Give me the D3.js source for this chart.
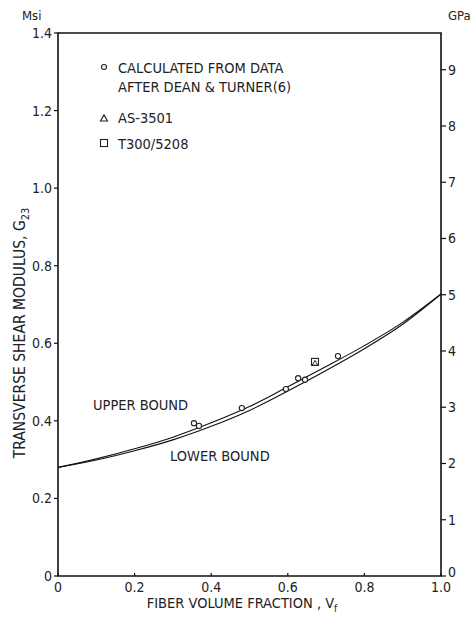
<!DOCTYPE html>
<html>
<head>
  <meta charset="utf-8">
  <script src="https://d3js.org/d3.v7.min.js"></script>
  <style>
    body { margin: 0; background: #fff; }
    text { font-family: "Liberation Sans Narrow", "DejaVu Sans Condensed", sans-serif; fill: #222; }
  </style>
</head>
<body>
<script>
  // bound curves, Msi vs fiber volume fraction
  var vf = [0, 0.1, 0.2, 0.3, 0.4, 0.5, 0.6, 0.7, 0.8, 0.9, 1.0];
  var upperBound = [0.28, 0.302, 0.328, 0.358, 0.395, 0.437, 0.488, 0.540, 0.594, 0.654, 0.727];
  var lowerBound = [0.28, 0.299, 0.323, 0.351, 0.386, 0.427, 0.477, 0.530, 0.586, 0.649, 0.727];

  // data points
  var deanTurnerVf = [0.355, 0.368, 0.48, 0.595, 0.627, 0.645, 0.731];
  var deanTurnerG  = [0.394, 0.387, 0.433, 0.482, 0.510, 0.506, 0.567];
  var as3501 = [[0.671, 0.550]];
  var t300 = [[0.671, 0.552]];

  var xTicks = [0, 0.2, 0.4, 0.6, 0.8, 1.0];
  var yTicks = [0, 0.2, 0.4, 0.6, 0.8, 1.0, 1.2, 1.4];
  var gpaTicks = [0, 1, 2, 3, 4, 5, 6, 7, 8, 9];

  var width = 476, height = 625;
  var mLeft = 58, mRight = 441, mTop = 33, mBottom = 576;

  var svg = d3.select("body").append("svg")
      .attr("width", width)
      .attr("height", height);

  var x = d3.scaleLinear().domain([0, 1]).range([mLeft, mRight]);
  var y = d3.scaleLinear().domain([0, 1.4]).range([mBottom, mTop]);
  var yG = d3.scaleLinear().domain([0, 1.4 * 6.895]).range([mBottom, mTop]);

  // frame: left, top, right, bottom
  svg.append("path")
    .attr("d", "M" + mLeft + "," + mBottom + "V" + mTop + "H" + mRight + "V" + mBottom + "Z")
    .style("fill", "none")
    .style("stroke", "#111")
    .style("stroke-width", 1.6);

  // left axis ticks
  svg.selectAll(".ytick")
    .data(yTicks)
    .enter().append("line")
    .attr("x1", mLeft - 4).attr("x2", mLeft)
    .attr("y1", function(d) { return y(d); })
    .attr("y2", function(d) { return y(d); })
    .style("stroke", "#111").style("stroke-width", 1.2);

  svg.selectAll(".ylab")
    .data(yTicks)
    .enter().append("text")
    .attr("x", mLeft - 6)
    .attr("y", function(d) { return y(d) + 5; })
    .attr("text-anchor", "end")
    .style("font-size", "14px")
    .text(function(d) { return d == 0 ? "0" : d3.format(".1f")(d); });

  // right axis ticks (GPa)
  svg.selectAll(".gtick")
    .data(gpaTicks)
    .enter().append("line")
    .attr("x1", mRight).attr("x2", mRight + 5)
    .attr("y1", function(d) { return yG(d); })
    .attr("y2", function(d) { return yG(d); })
    .style("stroke", "#111").style("stroke-width", 1.2);

  svg.selectAll(".glab")
    .data(gpaTicks)
    .enter().append("text")
    .attr("x", mRight + 7)
    .attr("y", function(d) { return yG(d) + (d == 0 ? 1 : 5); })
    .style("font-size", "14px")
    .text(function(d) { return d; });

  // bottom ticks
  svg.selectAll(".xtick")
    .data(xTicks)
    .enter().append("line")
    .attr("x1", function(d) { return x(d); })
    .attr("x2", function(d) { return x(d); })
    .attr("y1", mBottom).attr("y2", mBottom - 3)
    .style("stroke", "#111").style("stroke-width", 1.2);

  svg.selectAll(".xlab")
    .data(xTicks)
    .enter().append("text")
    .attr("x", function(d) { return x(d); })
    .attr("y", mBottom + 16)
    .attr("text-anchor", "middle")
    .style("font-size", "14px")
    .text(function(d) { return d == 0 ? "0" : d3.format(".1f")(d); });

  // units
  svg.append("text").attr("x", 22).attr("y", 20).style("font-size", "13px").text("Msi");
  svg.append("text").attr("x", 448).attr("y", 20).style("font-size", "13px").text("GPa");

  // axis titles
  var xt = svg.append("text")
    .attr("x", 242).attr("y", 608)
    .attr("text-anchor", "middle")
    .style("font-size", "14.5px")
    .text("FIBER VOLUME FRACTION , V");
  xt.append("tspan").attr("dy", 4).style("font-size", "10px").text("f");

  var yt = svg.append("text")
    .attr("transform", "translate(25,333) rotate(-90)")
    .attr("text-anchor", "middle")
    .style("font-size", "15.5px")
    .text("TRANSVERSE SHEAR MODULUS, G");
  yt.append("tspan").attr("dy", 4).style("font-size", "11px").text("23");

  // curves
  var line = d3.line()
    .x(function(d) { return x(d[0]); })
    .y(function(d) { return y(d[1]); })
    .curve(d3.curveCatmullRom);

  [upperBound, lowerBound].forEach(function(series) {
    svg.append("path")
      .datum(vf.map(function(v, i) { return [v, series[i]]; }))
      .attr("d", line)
      .style("fill", "none")
      .style("stroke", "#111")
      .style("stroke-width", 1.1);
  });

  svg.append("text").attr("x", 93).attr("y", 410).style("font-size", "14.5px").text("UPPER BOUND");
  svg.append("text").attr("x", 170).attr("y", 461).style("font-size", "14.5px").text("LOWER BOUND");

  // points
  svg.selectAll(".dt")
    .data(deanTurnerVf.map(function(v, i) { return [v, deanTurnerG[i]]; }))
    .enter().append("circle")
    .attr("cx", function(d) { return x(d[0]); })
    .attr("cy", function(d) { return y(d[1]); })
    .attr("r", 2.6)
    .style("fill", "#fff").style("stroke", "#222").style("stroke-width", 1.1);

  svg.selectAll(".sq")
    .data(t300)
    .enter().append("rect")
    .attr("x", function(d) { return x(d[0]) - 3.5; })
    .attr("y", function(d) { return y(d[1]) - 3.5; })
    .attr("width", 7).attr("height", 7)
    .style("fill", "#fff").style("stroke", "#222").style("stroke-width", 1.1);

  var tri = d3.symbol().type(d3.symbolTriangle).size(14);
  svg.selectAll(".tri")
    .data(as3501)
    .enter().append("path")
    .attr("d", tri)
    .attr("transform", function(d) { return "translate(" + x(d[0]) + "," + (y(d[1]) + 1) + ")"; })
    .style("fill", "none").style("stroke", "#222").style("stroke-width", 1);

  // legend
  svg.append("circle").attr("cx", 104).attr("cy", 67).attr("r", 2.5)
    .style("fill", "#fff").style("stroke", "#222").style("stroke-width", 1.1);
  svg.append("text").attr("x", 118).attr("y", 73).style("font-size", "14.5px").text("CALCULATED FROM DATA");
  svg.append("text").attr("x", 118).attr("y", 92).style("font-size", "14.5px").text("AFTER DEAN & TURNER(6)");

  svg.append("path").attr("d", d3.symbol().type(d3.symbolTriangle).size(22))
    .attr("transform", "translate(104,119)")
    .style("fill", "none").style("stroke", "#222").style("stroke-width", 1.1);
  svg.append("text").attr("x", 118).attr("y", 123).style("font-size", "14.5px").text("AS-3501");

  svg.append("rect").attr("x", 100.5).attr("y", 139.5).attr("width", 7).attr("height", 7)
    .style("fill", "#fff").style("stroke", "#222").style("stroke-width", 1.1);
  svg.append("text").attr("x", 118).attr("y", 149).style("font-size", "14.5px").text("T300/5208");
</script>
</body>
</html>
